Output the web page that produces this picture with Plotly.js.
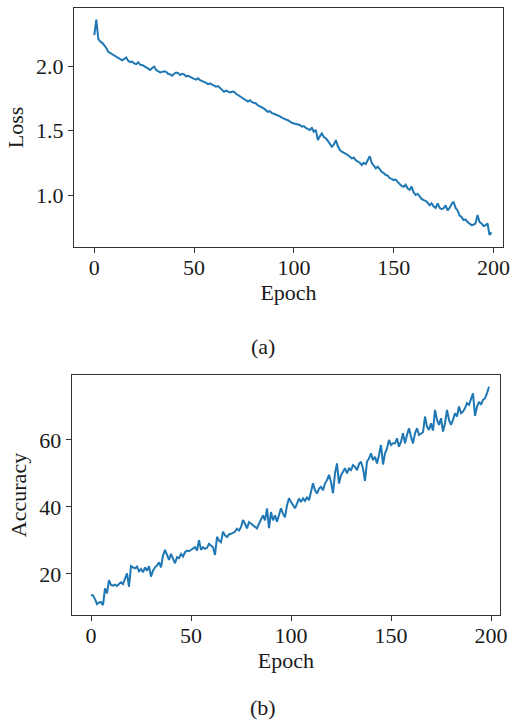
<!DOCTYPE html>
<html>
<head>
<meta charset="utf-8">
<script src="https://cdn.plot.ly/plotly-3.0.1.min.js"></script>
<style>html,body{margin:0;padding:0;background:#fff;}#chart{width:512px;height:722px;}</style>
</head>
<body>
<div id="chart"></div>
<script>
const epochs = Array.from({length: 200}, (_, i) => i);

const lossValues = [
  2.24, 2.36, 2.21, 2.19, 2.18, 2.16, 2.14, 2.11, 2.10, 2.09,
  2.085, 2.07, 2.06, 2.05, 2.045, 2.055, 2.067, 2.04, 2.03, 2.035,
  2.02, 2.015, 2.03, 2.01, 2.008, 2.0, 1.99, 1.98, 1.97, 1.985,
  1.995, 1.97, 1.96, 1.95, 1.955, 1.96, 1.955, 1.94, 1.935, 1.925,
  1.94, 1.95, 1.945, 1.93, 1.94, 1.935, 1.92, 1.925, 1.915, 1.905,
  1.90, 1.895, 1.905, 1.89, 1.885, 1.88, 1.87, 1.86, 1.865, 1.855,
  1.85, 1.84, 1.845, 1.83, 1.82, 1.80, 1.81, 1.805, 1.795, 1.80,
  1.80, 1.785, 1.775, 1.76, 1.755, 1.74, 1.73, 1.725, 1.735, 1.72,
  1.715, 1.71, 1.695, 1.69, 1.68, 1.67, 1.655, 1.645, 1.65, 1.635,
  1.63, 1.625, 1.62, 1.61, 1.60, 1.59, 1.585, 1.58, 1.568, 1.56,
  1.555, 1.55, 1.545, 1.543, 1.53, 1.535, 1.52, 1.51, 1.504, 1.52,
  1.49, 1.505, 1.426, 1.455, 1.478, 1.45, 1.44, 1.42, 1.40, 1.375,
  1.39, 1.426, 1.38, 1.35, 1.336, 1.33, 1.32, 1.31, 1.30, 1.284,
  1.29, 1.27, 1.26, 1.25, 1.233, 1.25, 1.24, 1.27, 1.30, 1.25,
  1.23, 1.207, 1.22, 1.20, 1.18, 1.17, 1.155, 1.15, 1.13, 1.125,
  1.116, 1.12, 1.10, 1.085, 1.07, 1.064, 1.08, 1.05, 1.04, 1.065,
  1.02, 1.00, 1.01, 0.99, 0.97, 0.96, 0.955, 0.94, 0.92, 0.935,
  0.91, 0.90, 0.935, 0.90, 0.89, 0.897, 0.92, 0.88, 0.90, 0.93,
  0.948, 0.90, 0.88, 0.84, 0.83, 0.806, 0.81, 0.79, 0.775, 0.767,
  0.77, 0.78, 0.845, 0.79, 0.78, 0.76, 0.765, 0.78, 0.69, 0.71
];

const accuracyValues = [
  13.7, 13.6, 12.5, 11.0, 11.5, 11.6, 10.7, 15.7, 14.2, 18.2,
  16.7, 16.5, 16.8, 16.4, 17.0, 17.5, 17.0, 18.5, 20.2, 16.2,
  22.4, 22.0, 21.7, 22.2, 20.8, 21.5, 20.5, 22.0, 21.0, 22.3,
  19.2, 21.0, 22.0, 22.5, 23.5, 22.0, 25.5, 27.2, 25.5, 24.2,
  26.0, 24.5, 23.2, 25.0, 24.7, 26.0, 25.2, 26.5, 27.0, 26.8,
  27.2, 27.5, 28.0, 27.0, 30.1, 27.2, 28.0, 27.5, 27.8, 29.0,
  28.5, 28.0, 25.7, 31.1, 30.0, 29.5, 32.6, 31.5, 31.0, 31.8,
  32.0, 32.3, 32.6, 33.5, 33.0, 34.0, 36.1, 35.0, 33.6, 35.5,
  35.0, 34.5, 34.0, 33.6, 35.0, 36.5, 37.5, 36.0, 39.6, 33.7,
  38.5, 36.0, 37.5, 35.6, 38.0, 39.6, 38.0, 36.9, 40.5, 42.6,
  41.5, 40.6, 39.6, 41.0, 42.5, 41.5, 42.6, 41.8, 43.0, 42.0,
  44.5, 47.1, 45.0, 44.0, 45.5, 46.0, 45.0, 47.0, 48.0, 49.6,
  47.5, 44.1, 50.0, 53.0, 47.0, 49.5, 50.5, 51.6, 50.0, 51.5,
  51.0, 52.5, 52.0, 51.0, 52.8, 53.5, 51.5, 47.8, 53.5, 54.5,
  56.0, 54.0, 55.0, 53.0, 55.5, 58.5, 52.7, 56.0, 57.5, 60.0,
  58.5, 59.0, 59.0, 60.5, 58.0, 59.5, 62.0, 59.0, 61.5, 63.5,
  61.0, 59.0, 62.0, 63.5, 61.5, 62.0, 62.3, 67.0, 64.0, 63.0,
  65.0, 62.8, 69.0, 66.0, 64.5, 66.5, 62.5, 65.0, 69.0, 66.0,
  64.5, 66.0, 68.0, 67.0, 70.0, 68.0, 68.5, 69.5, 71.0, 70.5,
  72.0, 73.9, 67.2, 70.0, 71.4, 70.5, 72.0, 72.4, 74.0, 75.9
];

const xTickVals = [0, 50, 100, 150, 200];
const lossTickVals = [1.0, 1.5, 2.0];
const lossTickText = ['1.0', '1.5', '2.0'];
const accTickVals = [20, 40, 60];

const lineColor = '#1f77b4';
const font = {family: '"Liberation Serif", "Times New Roman", serif', size: 22, color: '#1a1a1a'};

const axisBase = {
  showline: true, mirror: true, linecolor: '#333', linewidth: 1,
  ticks: 'outside', ticklen: 5, tickwidth: 1, tickcolor: '#333',
  showgrid: false, zeroline: false, tickfont: font
};

const traces = [
  {x: epochs, y: lossValues, type: 'scatter', mode: 'lines',
   line: {color: lineColor, width: 2}, xaxis: 'x', yaxis: 'y', hoverinfo: 'skip'},
  {x: epochs, y: accuracyValues, type: 'scatter', mode: 'lines',
   line: {color: lineColor, width: 2}, xaxis: 'x2', yaxis: 'y2', hoverinfo: 'skip'}
];

const layout = {
  width: 512, height: 722,
  margin: {l: 0, r: 0, t: 0, b: 0},
  paper_bgcolor: '#fff', plot_bgcolor: '#fff',
  showlegend: false,
  font: font,
  xaxis: Object.assign({}, axisBase, {
    domain: [74/512, 503/512], range: [-10.17, 204.76],
    tickvals: xTickVals, anchor: 'y', ticklabelstandoff: -4,
    title: {text: 'Epoch', font: font, standoff: 4}
  }),
  yaxis: Object.assign({}, axisBase, {
    domain: [1 - 247/722, 1 - 8/722], range: [0.597, 2.45],
    tickvals: lossTickVals, ticktext: lossTickText, anchor: 'x',
    title: {text: 'Loss', font: font, standoff: 6}
  }),
  xaxis2: Object.assign({}, axisBase, {
    domain: [71.7/512, 500/512], range: [-9.65, 204.5],
    tickvals: xTickVals, anchor: 'y2', ticklabelstandoff: -4,
    title: {text: 'Epoch', font: font, standoff: 4}
  }),
  yaxis2: Object.assign({}, axisBase, {
    domain: [1 - 615/722, 1 - 375/722], range: [7.76, 79.4],
    tickvals: accTickVals, anchor: 'x2',
    title: {text: 'Accuracy', font: font, standoff: 6}
  }),
  annotations: [
    {text: '(a)', xref: 'paper', yref: 'paper', x: 263/512, y: 1 - 346/722,
     showarrow: false, xanchor: 'center', yanchor: 'middle', font: font},
    {text: '(b)', xref: 'paper', yref: 'paper', x: 263/512, y: 1 - 707/722,
     showarrow: false, xanchor: 'center', yanchor: 'middle', font: font}
  ]
};

Plotly.newPlot('chart', traces, layout, {staticPlot: true, displayModeBar: false});
</script>
</body>
</html>
